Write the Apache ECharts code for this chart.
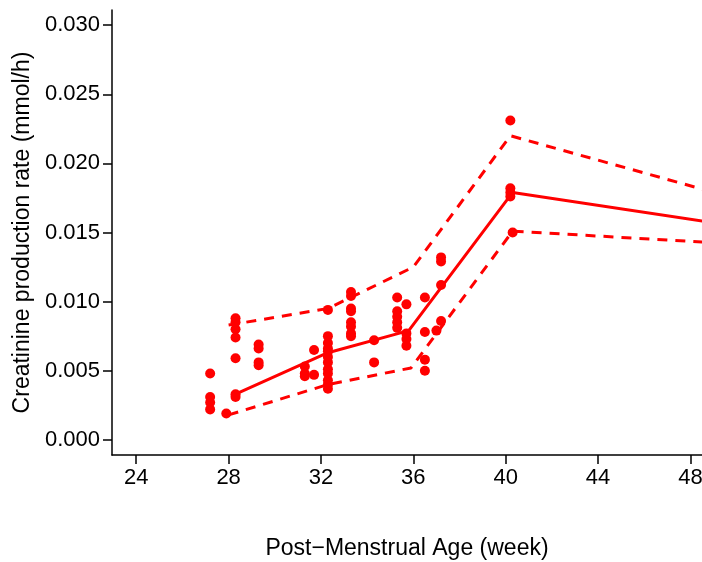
<!DOCTYPE html><html><head><meta charset="utf-8">
<script src="https://cdn.jsdelivr.net/npm/echarts@6/dist/echarts.min.js"></script>
<style>html,body{margin:0;padding:0;background:#fff}#c{width:702px;height:562px}</style></head><body><div id="c"></div>
<script>
const obsX=[27.2,27.2,27.2,27.2,27.9,28.3,28.3,28.3,28.3,28.3,28.3,28.3,29.3,29.3,29.3,29.3,31.3,31.3,31.3,31.7,31.7,
32.3,32.3,32.3,32.3,32.3,32.3,32.3,32.3,32.3,32.3,32.3,32.3,33.3,33.3,33.3,33.3,33.3,33.3,33.3,33.3,34.3,34.3,
35.3,35.3,35.3,35.3,35.3,35.7,35.7,35.7,35.7,36.5,36.5,36.5,36.5,37.0,37.2,37.2,37.2,37.2,40.2,40.2,40.2,40.2,40.3];
const obsY=[0.0048,0.0031,0.0027,0.0022,0.0019,0.0088,0.0085,0.0080,0.0074,0.0059,0.0033,0.0031,0.0069,0.0066,0.0056,0.0054,0.0053,0.0048,0.0046,0.0065,0.0047,
0.0094,0.0075,0.0070,0.0066,0.0064,0.0060,0.0056,0.0051,0.0048,0.0043,0.0040,0.0037,0.0107,0.0104,0.0095,0.0093,0.0085,0.0082,0.0077,0.0075,0.0072,0.0056,
0.0103,0.0093,0.0089,0.0085,0.0081,0.0098,0.0077,0.0073,0.0068,0.0103,0.0078,0.0058,0.0050,0.0079,0.0132,0.0129,0.0112,0.0086,0.0231,0.0182,0.0179,0.0176,0.0150];
const medX=[28.3,32.3,35.8,40.3,48.6], medY=[0.0033,0.0063,0.0079,0.0179,0.0158];
const upX=[28.0,32.3,36.0,40.2,48.6], upY=[0.0083,0.0095,0.0125,0.0220,0.0181];
const loX=[28.0,32.3,35.9,40.3,48.6], loY=[0.0018,0.0040,0.0052,0.0151,0.0143];
const xTicks=[24,28,32,36,40,44,48];
const yTicks=[0,0.005,0.01,0.015,0.02,0.025,0.03];
const z=(a,b)=>a.map((v,i)=>[v,b[i]]);
const red='#ff0000';
const axTxt={color:'#000',fontSize:23,fontFamily:'Liberation Sans'};
const tkTxt={color:'#000',fontSize:22,fontFamily:'Liberation Sans'};
echarts.init(document.getElementById('c')).setOption({
animation:false,
grid:{left:112,right:0,top:10,bottom:107,containLabel:false,outerBoundsMode:'none'},
xAxis:{type:'value',min:22.95,max:48.5,
 axisLine:{show:true,onZero:false,lineStyle:{color:'#000',width:1.5}},axisTick:{show:true,length:9,lineStyle:{color:'#000',width:1.5},customValues:xTicks},
 axisLabel:Object.assign({margin:12,customValues:xTicks},tkTxt),splitLine:{show:false},
 name:'Post\u2212Menstrual Age (week)',nameLocation:'middle',nameGap:82,nameTextStyle:axTxt},
yAxis:{type:'value',min:-0.0011,max:0.0311,
 axisLine:{show:true,onZero:false,lineStyle:{color:'#000',width:1.5}},axisTick:{show:true,length:9,lineStyle:{color:'#000',width:1.5},customValues:yTicks},
 axisLabel:Object.assign({margin:12,customValues:yTicks,formatter:v=>v.toFixed(3)},tkTxt),splitLine:{show:false},
 name:'Creatinine production rate (mmol/h)',nameLocation:'middle',nameGap:76,nameTextStyle:axTxt},
series:[
 {type:'scatter',data:z(obsX,obsY),symbolSize:10,itemStyle:{color:red,opacity:1}},
 {type:'line',data:z(medX,medY),symbol:'none',lineStyle:{color:red,width:3}},
 {type:'line',data:z(upX,upY),symbol:'none',lineStyle:{color:red,width:3,type:[10,8]}},
 {type:'line',data:z(loX,loY),symbol:'none',lineStyle:{color:red,width:3,type:[10,8]}}
]});
</script></body></html>
